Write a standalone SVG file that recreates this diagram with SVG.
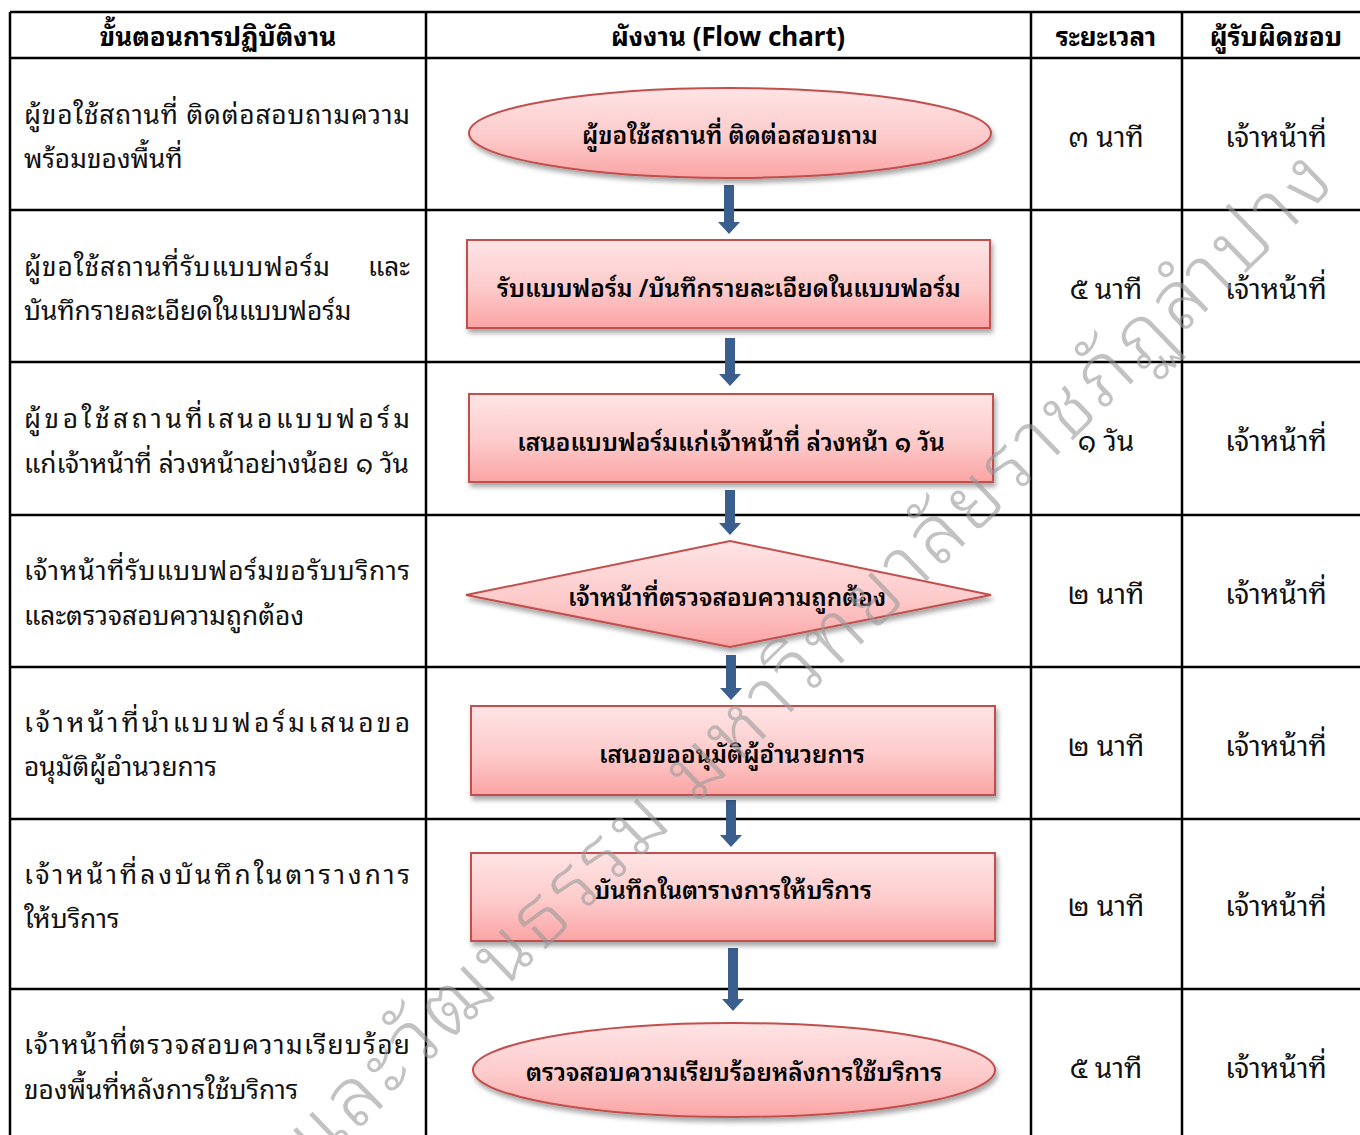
<svg xmlns="http://www.w3.org/2000/svg" width="1360" height="1135" viewBox="0 0 1360 1135">
<defs>
<linearGradient id="pink" x1="0" y1="0" x2="0" y2="1">
<stop offset="0" stop-color="#ffe4e5"/>
<stop offset="0.55" stop-color="#fdcaca"/>
<stop offset="1" stop-color="#fba4a4"/>
</linearGradient>
<filter id="sh" x="-10%" y="-20%" width="120%" height="150%">
<feDropShadow dx="2" dy="4" stdDeviation="2.5" flood-color="#000" flood-opacity="0.35"/>
</filter>
</defs>
<style>
.grid{stroke:#000;stroke-width:2.5;fill:none}
.hd{font-family:"Noto Sans Thai Looped","Noto Sans Thai","Noto Sans","DejaVu Sans",sans-serif;font-size:26px;font-weight:bold;fill:#000;text-anchor:middle}
.lt{font-family:"Noto Sans Thai Looped","Noto Sans Thai","Noto Sans","DejaVu Sans",sans-serif;font-size:26.3px;fill:#111}
.ct{font-family:"Noto Sans Thai Looped","Noto Sans Thai","Noto Sans","DejaVu Sans",sans-serif;font-size:28px;fill:#111;text-anchor:middle}
.nt{font-family:"Noto Sans Thai Looped","Noto Sans Thai","Noto Sans","DejaVu Sans",sans-serif;font-size:24.3px;font-weight:600;fill:#000;text-anchor:middle}
.shape{fill:url(#pink);stroke:#c0504d;stroke-width:2;filter:url(#sh)}
.arr{fill:#3a5f8e}
.wm{font-family:"Noto Sans Thai Looped","Noto Sans Thai","Noto Sans","DejaVu Sans",sans-serif;font-size:81px;font-weight:300;fill:#9a9a9a;opacity:0.6}
</style>
<rect width="1360" height="1135" fill="#fff"/>

<g id="table">
<line class="grid" x1="10" y1="12" x2="1360" y2="12"/>
<line class="grid" x1="10" y1="58" x2="1360" y2="58"/>
<line class="grid" x1="10" y1="210" x2="1360" y2="210"/>
<line class="grid" x1="10" y1="362" x2="1360" y2="362"/>
<line class="grid" x1="10" y1="515" x2="1360" y2="515"/>
<line class="grid" x1="10" y1="667" x2="1360" y2="667"/>
<line class="grid" x1="10" y1="819" x2="1360" y2="819"/>
<line class="grid" x1="10" y1="989" x2="1360" y2="989"/>
<line class="grid" x1="10" y1="12" x2="10" y2="1135"/>
<line class="grid" x1="426" y1="12" x2="426" y2="1135"/>
<line class="grid" x1="1031" y1="12" x2="1031" y2="1135"/>
<line class="grid" x1="1182" y1="12" x2="1182" y2="1135"/>
</g>

<g id="header">
<text class="hd" x="218" y="46">ขั้นตอนการปฏิบัติงาน</text>
<text class="hd" x="728" y="46">ผังงาน (Flow chart)</text>
<text class="hd" x="1106" y="46">ระยะเวลา</text>
<text class="hd" x="1276" y="46">ผู้รับผิดชอบ</text>
</g>

<g id="steps">
<text class="lt" x="24" y="124" textLength="386" lengthAdjust="spacing">ผู้ขอใช้สถานที่ ติดต่อสอบถามความ</text>
<text class="lt" x="24" y="168">พร้อมของพื้นที่</text>
<text class="lt" x="24" y="276" textLength="306" lengthAdjust="spacing">ผู้ขอใช้สถานที่รับแบบฟอร์ม</text>
<text class="lt" x="410" y="276" text-anchor="end">และ</text>
<text class="lt" x="24" y="320">บันทึกรายละเอียดในแบบฟอร์ม</text>
<text class="lt" x="24" y="428" textLength="386" lengthAdjust="spacing">ผู้ขอใช้สถานที่เสนอแบบฟอร์ม</text>
<text class="lt" x="24" y="473">แก่เจ้าหน้าที่ ล่วงหน้าอย่างน้อย ๑ วัน</text>
<text class="lt" x="24" y="580" textLength="386" lengthAdjust="spacing">เจ้าหน้าที่รับแบบฟอร์มขอรับบริการ</text>
<text class="lt" x="24" y="625">และตรวจสอบความถูกต้อง</text>
<text class="lt" x="24" y="732" textLength="386" lengthAdjust="spacing">เจ้าหน้าที่นำแบบฟอร์มเสนอขอ</text>
<text class="lt" x="24" y="776">อนุมัติผู้อำนวยการ</text>
<text class="lt" x="24" y="884" textLength="386" lengthAdjust="spacing">เจ้าหน้าที่ลงบันทึกในตารางการ</text>
<text class="lt" x="24" y="928">ให้บริการ</text>
<text class="lt" x="24" y="1054" textLength="386" lengthAdjust="spacing">เจ้าหน้าที่ตรวจสอบความเรียบร้อย</text>
<text class="lt" x="24" y="1099">ของพื้นที่หลังการใช้บริการ</text>
</g>

<g id="connectors">
<path class="arr" d="M724,185 H734 V222 H740 L729,234 L718,222 H724 Z"/>
<path class="arr" d="M725,338 H735 V374 H741 L730,386 L719,374 H725 Z"/>
<path class="arr" d="M725,490 H735 V523 H741 L730,535 L719,523 H725 Z"/>
<path class="arr" d="M726,655 H736 V688 H742 L731,700 L720,688 H726 Z"/>
<path class="arr" d="M726,800 H736 V835 H742 L731,847 L720,835 H726 Z"/>
<path class="arr" d="M728,948 H738 V999 H744 L733,1011 L722,999 H728 Z"/>
</g>

<g id="n1">
<ellipse class="shape" cx="730" cy="133" rx="261" ry="45"/>
<text class="nt" x="730" y="144">ผู้ขอใช้สถานที่ ติดต่อสอบถาม</text>
</g>
<g id="n2">
<rect class="shape" x="467" y="240" width="523" height="88"/>
<text class="nt" x="729" y="297">รับแบบฟอร์ม /บันทึกรายละเอียดในแบบฟอร์ม</text>
</g>
<g id="n3">
<rect class="shape" x="469" y="394" width="524" height="88"/>
<text class="nt" x="731" y="451">เสนอแบบฟอร์มแก่เจ้าหน้าที่ ล่วงหน้า ๑ วัน</text>
</g>
<g id="n4">
<polygon class="shape" points="466,595 730,541 991,595 730,647"/>
<text class="nt" x="727" y="606">เจ้าหน้าที่ตรวจสอบความถูกต้อง</text>
</g>
<g id="n5">
<rect class="shape" x="471" y="706" width="524" height="89"/>
<text class="nt" x="732" y="763">เสนอขออนุมัติผู้อำนวยการ</text>
</g>
<g id="n6">
<rect class="shape" x="471" y="853" width="524" height="88"/>
<text class="nt" x="733" y="899">บันทึกในตารางการให้บริการ</text>
</g>
<g id="n7">
<ellipse class="shape" cx="734" cy="1070" rx="261" ry="47"/>
<text class="nt" x="734" y="1081">ตรวจสอบความเรียบร้อยหลังการใช้บริการ</text>
</g>

<g id="time">
<text class="ct" x="1106" y="147">๓ นาที</text>
<text class="ct" x="1106" y="299">๕ นาที</text>
<text class="ct" x="1106" y="451">๑ วัน</text>
<text class="ct" x="1106" y="604">๒ นาที</text>
<text class="ct" x="1106" y="756">๒ นาที</text>
<text class="ct" x="1106" y="916">๒ นาที</text>
<text class="ct" x="1106" y="1078">๕ นาที</text>
</g>
<g id="owner">
<text class="ct" x="1276" y="147">เจ้าหน้าที่</text>
<text class="ct" x="1276" y="299">เจ้าหน้าที่</text>
<text class="ct" x="1276" y="451">เจ้าหน้าที่</text>
<text class="ct" x="1276" y="604">เจ้าหน้าที่</text>
<text class="ct" x="1276" y="756">เจ้าหน้าที่</text>
<text class="ct" x="1276" y="916">เจ้าหน้าที่</text>
<text class="ct" x="1276" y="1078">เจ้าหน้าที่</text>
</g>

<g id="watermark">
<text class="wm" transform="translate(1340,182) rotate(-44)" text-anchor="end" letter-spacing="4.5">สำนักศิลปะและวัฒนธรรม มหาวิทยาลัยราชภัฏลำปาง</text>
</g>
</svg>
